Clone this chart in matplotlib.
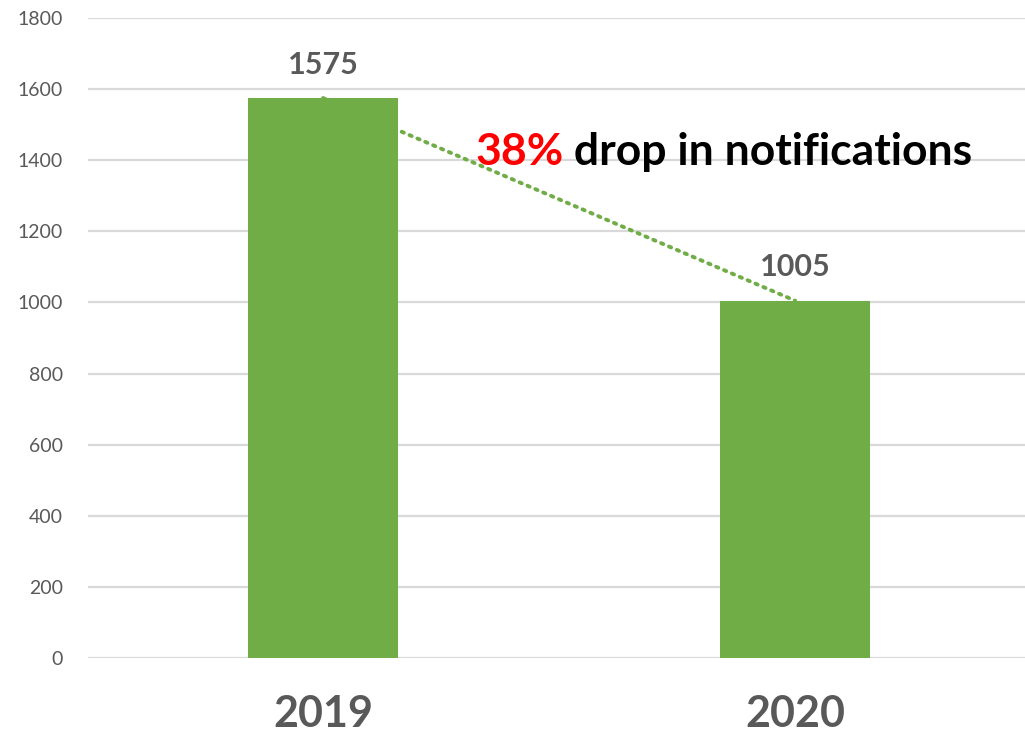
import matplotlib
matplotlib.use("Agg")
import matplotlib.pyplot as plt

categories = ["2019", "2020"]
values = [1575, 1005]
yticks = [0, 200, 400, 600, 800, 1000, 1200, 1400, 1600, 1800]
pct_text = "38%"
note_text = " drop in notifications"

plt.rcParams['font.family'] = ['Lato', 'DejaVu Sans']

fig = plt.figure(figsize=(10.25, 7.43), dpi=100)
ax = fig.add_axes([88/1025, 1-658/743, 1-88/1025, (658-18)/743])

green = "#70AD47"
grey = "#595959"
x = list(range(len(categories)))
ax.bar(x, values, width=0.318, color=green, zorder=3)
ax.plot(x, values, linestyle=(0, (0.6, 1.6)), color=green, linewidth=2.8,
        dash_capstyle='round', zorder=4)

for xi, v in zip(x, values):
    ax.annotate(str(v), (xi, v), xytext=(0, 14), textcoords='offset points',
                ha='center', va='bottom', fontsize=22, fontweight='bold', color=grey)

ax.set_xlim(-0.498, 1.487)
ax.set_ylim(0, 1800)
ax.set_yticks(yticks)
ax.set_yticklabels([str(t) for t in yticks], fontsize=14, color=grey)
ax.set_xticks(x)
ax.set_xticklabels(categories, fontsize=31, fontweight='bold', color=grey)
ax.tick_params(axis='x', length=0, pad=26)
ax.tick_params(axis='y', length=0, pad=18)
ax.grid(axis='y', color="#D9D9D9", linewidth=1.6, zorder=0)
for s in ax.spines.values():
    s.set_visible(False)

t1 = ax.text(0.322, 1386, pct_text, fontsize=32, fontweight='bold', color="#FF0000",
             ha='left', va='baseline', zorder=5)
ax.annotate(note_text, xy=(1, 0), xycoords=t1, fontsize=32, fontweight='bold',
            color="black", ha='left', va='bottom', zorder=5)

fig.savefig("out.png", dpi=100)
